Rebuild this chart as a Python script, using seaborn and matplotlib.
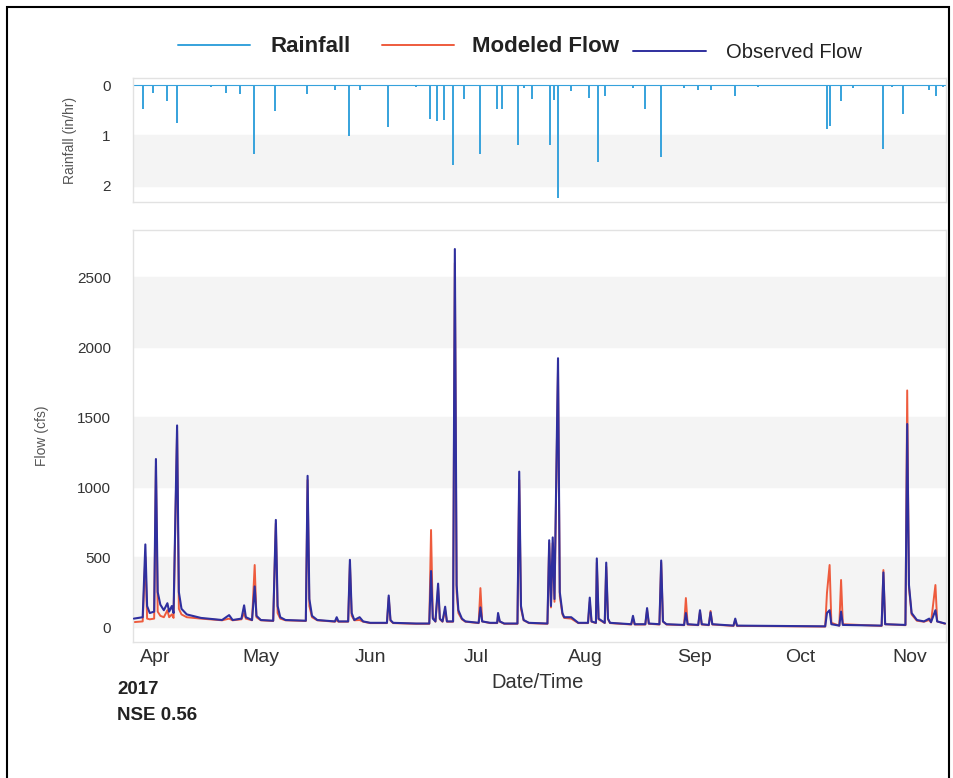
import matplotlib
matplotlib.use("Agg")
import matplotlib.pyplot as plt
import matplotlib.dates as mdates
from matplotlib.lines import Line2D
from matplotlib.patches import Rectangle
import seaborn as sns
import pandas as pd

# rainfall events (in/hr)
rain_time = [
    "03-28 12", "03-31 12", "04-04 12", "04-07 06", "04-17 00", "04-21 00",
    "04-25 00", "04-29 00", "05-05 00", "05-14 00", "05-22 00", "05-26 00",
    "05-29 00", "06-06 00", "06-14 00", "06-18 00", "06-20 00", "06-22 00",
    "06-24 12", "06-27 12", "07-02 00", "07-07 00", "07-08 12", "07-13 00",
    "07-14 12", "07-17 00", "07-22 00", "07-23 00", "07-24 06", "07-28 00",
    "08-02 00", "08-04 12", "08-06 12", "08-14 12", "08-18 00", "08-22 12",
    "08-29 00", "09-02 00", "09-05 12", "09-12 12", "09-19 00", "10-08 12",
    "10-09 12", "10-12 12", "10-16 00", "10-24 12", "10-27 00", "10-30 00",
    "11-06 12", "11-08 12", "11-10 12",
]
rain_depth = [
    0.48, 0.16, 0.32, 0.76, 0.03, 0.16,
    0.18, 1.36, 0.52, 0.18, 0.10, 1.02,
    0.10, 0.84, 0.04, 0.68, 0.72, 0.70,
    1.58, 0.28, 1.36, 0.48, 0.48, 1.18,
    0.06, 0.28, 1.18, 0.30, 2.24, 0.12,
    0.26, 1.52, 0.22, 0.06, 0.48, 1.42,
    0.06, 0.10, 0.10, 0.22, 0.04, 0.88,
    0.82, 0.32, 0.06, 1.26, 0.04, 0.58,
    0.10, 0.22, 0.04,
]

# flow (cfs): shared time stamps, observed and modeled
flow_time = [
    "03-26 00", "03-28 12", "03-29 06", "03-29 18", "03-30 12", "03-31 18",
    "04-01 06", "04-01 18", "04-02 12", "04-03 12", "04-04 12", "04-05 00",
    "04-05 18", "04-06 06", "04-07 06", "04-07 18", "04-08 12", "04-10 00",
    "04-14 00", "04-20 00", "04-22 00", "04-23 00", "04-25 12", "04-26 06",
    "04-26 18", "04-28 12", "04-29 06", "04-29 18", "05-01 00", "05-04 12",
    "05-05 06", "05-05 18", "05-06 12", "05-08 00", "05-13 18", "05-14 06",
    "05-14 18", "05-15 12", "05-17 00", "05-22 00", "05-22 12", "05-23 00",
    "05-25 18", "05-26 06", "05-26 18", "05-27 12", "05-29 00", "05-30 00",
    "06-01 00", "06-05 18", "06-06 06", "06-06 18", "06-07 12", "06-14 00",
    "06-17 18", "06-18 06", "06-18 18", "06-19 12", "06-20 06", "06-20 18",
    "06-21 12", "06-22 06", "06-22 18", "06-24 12", "06-25 00", "06-25 12",
    "06-26 00", "06-27 00", "06-28 00", "07-01 18", "07-02 06", "07-02 18",
    "07-05 00", "07-07 00", "07-07 06", "07-07 18", "07-09 00", "07-12 18",
    "07-13 06", "07-13 18", "07-14 12", "07-16 00", "07-21 06", "07-21 18",
    "07-22 06", "07-22 18", "07-23 06", "07-24 06", "07-24 18", "07-25 12",
    "07-26 00", "07-28 00", "07-30 00", "08-01 18", "08-02 06", "08-02 18",
    "08-04 00", "08-04 06", "08-04 18", "08-06 12", "08-06 22", "08-07 10",
    "08-08 00", "08-14 00", "08-14 12", "08-15 00", "08-18 00", "08-18 12",
    "08-19 00", "08-22 00", "08-22 12", "08-23 00", "08-24 00", "08-29 00",
    "08-29 12", "08-30 00", "09-02 00", "09-02 12", "09-03 00", "09-05 00",
    "09-05 12", "09-06 00", "09-12 00", "09-12 12", "09-13 00", "10-08 00",
    "10-08 12", "10-09 06", "10-09 18", "10-12 00", "10-12 12", "10-13 00",
    "10-24 00", "10-24 12", "10-25 00", "10-30 18", "10-31 06", "10-31 18",
    "11-01 12", "11-03 00", "11-05 00", "11-06 12", "11-07 00", "11-08 06",
    "11-08 18", "11-11 00",
]
obs_flow = [
    60, 70, 590, 150, 100, 110,
    1200, 250, 160, 120, 170, 110,
    150, 100, 1440, 250, 130, 90,
    65, 50, 85, 50, 60, 155,
    70, 50, 290, 80, 50, 45,
    765, 150, 70, 50, 45, 1080,
    200, 80, 50, 40, 70, 40,
    40, 480, 100, 50, 70, 40,
    30, 30, 225, 50, 30, 25,
    25, 400, 60, 40, 310, 60,
    40, 145, 40, 40, 2700, 300,
    120, 60, 40, 30, 140, 40,
    30, 30, 100, 40, 25, 25,
    1110, 150, 50, 30, 25, 620,
    150, 640, 200, 1920, 250, 100,
    70, 70, 30, 30, 210, 40,
    30, 490, 60, 30, 460, 60,
    30, 20, 80, 20, 20, 135,
    25, 20, 475, 40, 20, 15,
    100, 20, 15, 120, 20, 15,
    105, 20, 10, 60, 10, 5,
    100, 120, 20, 10, 110, 15,
    10, 390, 20, 15, 1450, 300,
    100, 50, 40, 60, 35, 120,
    40, 25,
]
mod_flow = [
    35, 40, 500, 60, 55, 60,
    1150, 110, 80, 70, 120, 70,
    90, 65, 1400, 130, 90, 70,
    60, 48, 60, 48, 55, 100,
    60, 48, 443, 70, 48, 43,
    740, 100, 60, 48, 43, 1050,
    150, 70, 48, 38, 50, 38,
    38, 450, 80, 48, 50, 38,
    28, 28, 210, 45, 28, 23,
    23, 693, 70, 38, 280, 55,
    38, 120, 38, 38, 2600, 250,
    100, 55, 38, 28, 278, 40,
    28, 28, 80, 38, 23, 23,
    1050, 130, 48, 28, 23, 600,
    140, 600, 180, 1850, 220, 90,
    65, 60, 28, 28, 180, 38,
    28, 460, 55, 28, 430, 55,
    28, 18, 60, 18, 18, 120,
    23, 18, 460, 38, 18, 13,
    207, 18, 13, 110, 18, 13,
    115, 18, 8, 50, 8, 3,
    243, 443, 30, 10, 336, 20,
    8, 407, 20, 13, 1690, 280,
    90, 45, 38, 50, 33, 300,
    40, 23,
]

year = "2017-"
rain = pd.DataFrame({"time": pd.to_datetime([year + t for t in rain_time], format="%Y-%m-%d %H"),
                     "rain": rain_depth})
flow = pd.DataFrame({"time": pd.to_datetime([year + t for t in flow_time], format="%Y-%m-%d %H"),
                     "observed": obs_flow, "modeled": mod_flow})

rain_color = "#36a2dc"
mod_color = "#ee5b3d"
obs_color = "#2f2f9e"
band_color = "#f4f4f4"
edge_color = "#e2e2e2"

sns.set_style("white")
plt.rcParams["font.family"] = ["Liberation Sans", "DejaVu Sans"]

W, H = 954, 778
fig = plt.figure(figsize=(W / 100, H / 100), dpi=100)
ax_r = fig.add_axes([133 / W, 1 - 202 / H, (946 - 133) / W, (202 - 78) / H])
ax_f = fig.add_axes([133 / W, 1 - 642 / H, (946 - 133) / W, (642 - 230) / H])

xmin = pd.Timestamp("2017-03-25 18:00")
xmax = pd.Timestamp("2017-11-11 06:00")

# rainfall panel (inverted axis)
ax_r.axhspan(1, 2, color=band_color, zorder=0)
ax_r.axhline(0, color=rain_color, lw=0.8, zorder=1)
ax_r.vlines(rain["time"], 0, rain["rain"], color=rain_color, lw=1.4, zorder=2)
ax_r.set_xlim(xmin, xmax)
ax_r.set_ylim(2.32, -0.14)
ax_r.set_yticks([0, 1, 2])
ax_r.set_xticks([])
ax_r.set_ylabel("Rainfall (in/hr)", fontsize=10, color="#555555", labelpad=18)

# flow panel
for lo in [0, 1000, 2000]:
    ax_f.axhspan(lo, lo + 500, color=band_color, zorder=0)
sns.lineplot(data=flow, x="time", y="modeled", ax=ax_f, color=mod_color, lw=1.4,
             estimator=None, zorder=2)
sns.lineplot(data=flow, x="time", y="observed", ax=ax_f, color=obs_color, lw=1.5,
             estimator=None, zorder=3)
ax_f.set_xlim(xmin, xmax)
ax_f.set_ylim(-107, 2836)
ax_f.set_yticks([0, 500, 1000, 1500, 2000, 2500])
ax_f.xaxis.set_major_locator(mdates.MonthLocator())
ax_f.xaxis.set_major_formatter(mdates.DateFormatter("%b"))
ax_f.set_xlabel("")
ax_f.set_ylabel("Flow (cfs)", fontsize=10, color="#555555", labelpad=20)

for ax in (ax_r, ax_f):
    for sp in ax.spines.values():
        sp.set_color(edge_color)
        sp.set_linewidth(1)
    ax.tick_params(axis="y", length=0, pad=16, labelsize=11, labelcolor="#333333")
    ax.tick_params(axis="x", length=0, pad=5, labelsize=14, labelcolor="#333333")

fig.text(538 / W, 1 - 683 / H, "Date/Time", ha="center", va="center",
         fontsize=14.5, color="#333333")
fig.text(117 / W, 1 - 690 / H, "2017", ha="left", va="center",
         fontsize=13.5, fontweight="bold", color="#222222")
fig.text(117 / W, 1 - 716 / H, "NSE 0.56", ha="left", va="center",
         fontsize=13.5, fontweight="bold", color="#222222")

# legend entries placed one by one to follow the uneven spacing
entries = [
    (rain_color, "Rainfall", "bold", 16, 178, 47, 3.24, 0.9),
    (mod_color, "Modeled Flow", "bold", 16, 382, 47, 3.24, 0.8),
    (obs_color, "Observed Flow", "normal", 14.5, 633, 53, 3.63, 1.0),
]
for color, label, weight, size, x0, y0, hl, tp in entries:
    leg = fig.legend([Line2D([], [], color=color, lw=1.4)], [label],
                     loc="center left", bbox_to_anchor=(x0 / W, 1 - y0 / H),
                     frameon=False, borderpad=0, borderaxespad=0,
                     handlelength=hl, handletextpad=tp,
                     prop={"size": size, "weight": weight})
    for t in leg.get_texts():
        t.set_color("#222222")

fig.patches.append(Rectangle((7 / W, -0.02), (949 - 7) / W, 1.02 - 7 / H,
                             transform=fig.transFigure, fill=False,
                             ec="black", lw=1.5))

fig.savefig("out.png", dpi=100)
